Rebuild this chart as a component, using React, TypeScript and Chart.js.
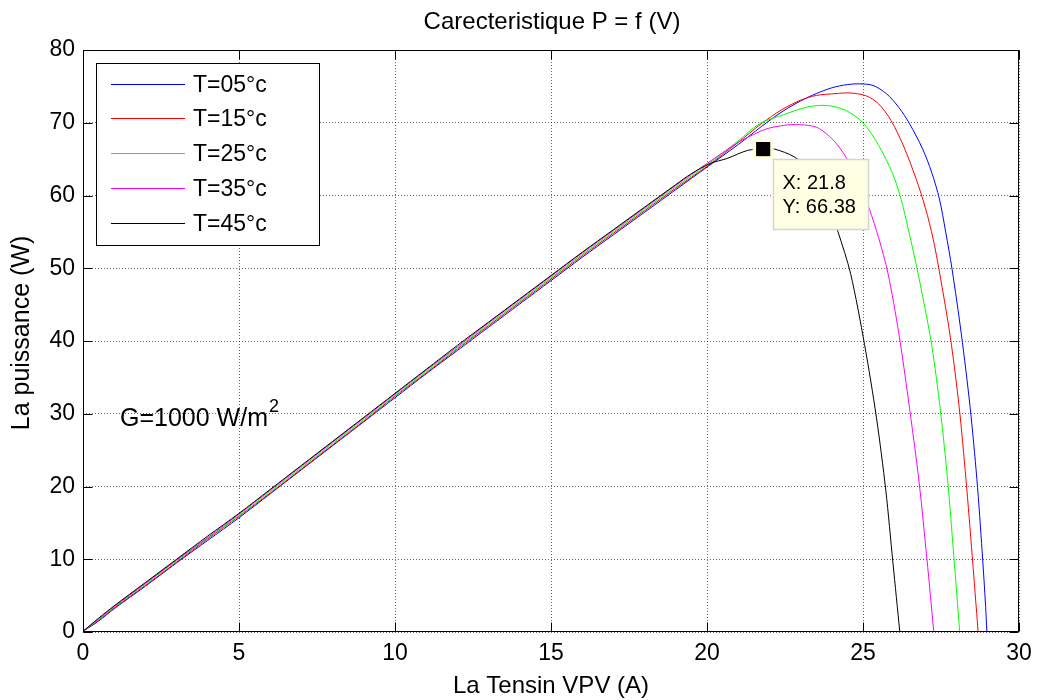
import React, { useEffect, useRef } from "react";
import { Chart, registerables } from "chart.js";

Chart.register(...registerables);

const TITLE = "Carecteristique P = f (V)";
const X_TITLE = "La Tensin VPV (A)";
const Y_TITLE = "La puissance (W)";
const NOTE_MAIN = "G=1000 W/m";
const NOTE_SUP = "2";

const SERIES_LABELS = ["T=05°c", "T=15°c", "T=25°c", "T=35°c", "T=45°c"];
const SERIES_COLORS = ["#0000FF", "#FF0000", "#00FF00", "#FF00FF", "#000000"];

const X_TICKS = [0, 5, 10, 15, 20, 25, 30];
const Y_TICKS = [0, 10, 20, 30, 40, 50, 60, 70, 80];

// T = 05 °C
const V05 = [0, 0.5, 1, 2, 3, 4, 5, 6, 7, 8, 9, 10, 11, 12, 13, 14, 15, 16, 17, 18, 19, 20, 21, 21.75, 22.4, 23.0, 23.5, 24.0, 24.5, 24.9, 25.32, 25.75, 26.15, 26.5, 26.9, 27.2, 27.45, 27.65, 27.85, 28.15, 28.43, 28.65, 28.82, 28.93, 28.97];
const P05 = [0.1, 1.5, 3.2, 6.3, 9.5, 12.6, 15.7, 19.0, 22.3, 25.6, 28.9, 32.2, 35.5, 38.7, 41.9, 45.1, 48.3, 51.5, 54.6, 57.7, 60.8, 63.9, 67.0, 69.5, 71.5, 73.0, 74.0, 74.8, 75.25, 75.35, 75.13, 74.0, 72.1, 69.8, 66.5, 63.2, 59.5, 55.0, 50.0, 41.0, 31.0, 21.0, 11.0, 3.5, 0];

// T = 15 °C
const V15 = [0, 0.5, 1, 2, 3, 4, 5, 6, 7, 8, 9, 10, 11, 12, 13, 14, 15, 16, 17, 18, 19, 20, 21, 21.75, 22.4, 23.0, 23.5, 24.1, 24.58, 25.1, 25.5, 25.9, 26.3, 26.7, 27.0, 27.25, 27.45, 27.8, 28.08, 28.3, 28.5, 28.69];
const P15 = [0.1, 1.6, 3.3, 6.4, 9.6, 12.8, 15.9, 19.1, 22.4, 25.7, 29.0, 32.4, 35.6, 38.9, 42.1, 45.3, 48.5, 51.7, 54.8, 57.9, 61.0, 64.0, 67.3, 69.9, 71.8, 73.1, 73.75, 74.0, 74.1, 73.7, 72.6, 70.3, 66.8, 62.3, 58.3, 54.0, 49.5, 40.5, 31.0, 21.0, 10.5, 0];

// T = 25 °C
const V25 = [0, 0.5, 1, 2, 3, 4, 5, 6, 7, 8, 9, 10, 11, 12, 13, 14, 15, 16, 17, 18, 19, 20, 21, 21.7, 22.45, 23.2, 23.83, 24.45, 25.0, 25.5, 25.95, 26.2, 26.45, 26.7, 26.95, 27.2, 27.48, 27.72, 27.9, 28.1];
const P25 = [0.1, 1.7, 3.4, 6.6, 9.8, 12.9, 16.0, 19.3, 22.6, 25.9, 29.2, 32.5, 35.8, 39.0, 42.3, 45.5, 48.7, 51.9, 55.0, 58.1, 61.2, 64.2, 67.5, 69.9, 71.1, 72.15, 72.38, 71.7, 70.0, 66.9, 63.0, 59.8, 55.4, 50.6, 45.3, 39.5, 30.5, 20.5, 11.0, 0];

// T = 35 °C
const V35 = [0, 0.5, 1, 2, 3, 4, 5, 6, 7, 8, 9, 10, 11, 12, 13, 14, 15, 16, 17, 18, 19, 20, 21, 21.5, 21.9, 22.4, 22.8, 23.5, 24.05, 24.45, 24.9, 25.2, 25.5, 25.8, 26.15, 26.5, 26.8, 27.05, 27.27];
const P35 = [0.1, 1.8, 3.5, 6.7, 9.9, 13.0, 16.2, 19.5, 22.8, 26.1, 29.4, 32.7, 36.0, 39.2, 42.5, 45.7, 48.9, 52.1, 55.2, 58.3, 61.4, 64.4, 67.3, 68.4, 69.15, 69.6, 69.75, 69.4, 67.6, 65.3, 61.6, 58.2, 54.2, 49.3, 41.0, 30.5, 20.5, 10.0, 0];

// T = 45 °C
const V45 = [0, 0.5, 1, 2, 3, 4, 5, 6, 7, 8, 9, 10, 11, 12, 13, 14, 15, 16, 17, 18, 19, 19.5, 20.1, 20.65, 21.3, 21.8, 22.15, 22.8, 23.3, 23.8, 24.2, 24.6, 25.05, 25.43, 25.73, 25.96, 26.18];
const P45 = [0.1, 1.9, 3.6, 6.8, 10.0, 13.2, 16.3, 19.6, 22.9, 26.2, 29.5, 32.8, 36.1, 39.4, 42.6, 45.8, 49.0, 52.2, 55.3, 58.4, 61.5, 63.0, 64.4, 65.1, 66.2, 66.42, 66.4, 65.3, 63.4, 60.0, 55.0, 49.3, 39.5, 29.5, 19.5, 9.5, 0];

// data tip
const TIP_X = [21.8];
const TIP_Y = [66.38];

const VOLTS = [V05, V15, V25, V35, V45];
const POWERS = [P05, P15, P25, P35, P45];

const FONT = "'Liberation Sans', Arial, Helvetica, sans-serif";

const overlayPlugin = {
  id: "overlay",
  afterDatasetsDraw(chart: any) {
    const ctx = chart.ctx;
    const xs = chart.scales.x;
    const ys = chart.scales.y;
    const px = xs.getPixelForValue(TIP_X[0]);
    const py = ys.getPixelForValue(TIP_Y[0]);
    const bx = Math.round(px + 10) + 0.5;
    const by = Math.round(py + 10) + 0.5;
    const bw = 95;
    const bh = 70;
    ctx.save();
    ctx.fillStyle = "#FFFFE4";
    ctx.fillRect(bx, by, bw, bh);
    ctx.strokeStyle = "#D4D4D0";
    ctx.lineWidth = 1.5;
    ctx.strokeRect(bx, by, bw, bh);
    ctx.fillStyle = "#000";
    ctx.font = `20px ${FONT}`;
    ctx.textBaseline = "middle";
    ctx.textAlign = "left";
    ctx.fillText(`X: ${TIP_X[0]}`, bx + 9, by + 24);
    ctx.fillText(`Y: ${TIP_Y[0]}`, bx + 9, by + 48);
    ctx.restore();
  },
  afterDraw(chart: any) {
    const ctx = chart.ctx;
    const a = chart.chartArea;
    const xs = chart.scales.x;
    const ys = chart.scales.y;
    ctx.save();
    ctx.strokeStyle = "#000";
    ctx.lineWidth = 1;
    const L = Math.round(a.left) + 0.5;
    const R = Math.round(a.right) - 0.5;
    const T = Math.round(a.top) + 0.5;
    const B = Math.round(a.bottom) - 0.5;
    ctx.strokeRect(L, T, R - L, B - T);
    const tl = 9;
    ctx.beginPath();
    X_TICKS.forEach((v) => {
      const p = Math.round(xs.getPixelForValue(v)) + 0.5;
      ctx.moveTo(p, B);
      ctx.lineTo(p, B - tl);
      ctx.moveTo(p, T);
      ctx.lineTo(p, T + tl);
    });
    Y_TICKS.forEach((v) => {
      const p = Math.round(ys.getPixelForValue(v)) + 0.5;
      ctx.moveTo(L, p);
      ctx.lineTo(L + tl, p);
      ctx.moveTo(R, p);
      ctx.lineTo(R - tl, p);
    });
    ctx.stroke();

    // legend
    const lx = 96.5, ly = 63.5, lw = 223, lh = 182;
    ctx.fillStyle = "#fff";
    ctx.fillRect(lx, ly, lw, lh);
    ctx.strokeStyle = "#000";
    ctx.lineWidth = 1;
    ctx.strokeRect(lx, ly, lw, lh);
    ctx.font = `23px ${FONT}`;
    ctx.textBaseline = "middle";
    ctx.textAlign = "left";
    SERIES_LABELS.forEach((lab, i) => {
      const ry = Math.round(83.5 + i * 34.8) + 0.5;
      ctx.strokeStyle = SERIES_COLORS[i];
      ctx.lineWidth = 1;
      ctx.beginPath();
      ctx.moveTo(111, ry);
      ctx.lineTo(185, ry);
      ctx.stroke();
      ctx.fillStyle = "#000";
      ctx.fillText(lab, 193, ry + 1);
    });

    // irradiance note
    ctx.fillStyle = "#000";
    ctx.font = `25px ${FONT}`;
    ctx.textBaseline = "middle";
    ctx.fillText(NOTE_MAIN, a.left + 37, 419);
    const w = ctx.measureText(NOTE_MAIN).width;
    ctx.font = `18px ${FONT}`;
    ctx.fillText(NOTE_SUP, a.left + 37 + w + 1, 407);

    // titles
    const cx = (a.left + a.right) / 2;
    ctx.font = `24px ${FONT}`;
    ctx.textAlign = "center";
    ctx.textBaseline = "middle";
    ctx.fillText(TITLE, cx + 1, 22);
    ctx.fillText(X_TITLE, cx, 686);
    ctx.font = `25px ${FONT}`;
    ctx.translate(22, 333);
    ctx.rotate(-Math.PI / 2);
    ctx.fillText(Y_TITLE, 0, 0);
    ctx.restore();
  },
};

export default function App() {
  const ref = useRef<HTMLCanvasElement | null>(null);
  useEffect(() => {
    if (!ref.current) return;
    const datasets: any[] = SERIES_LABELS.map((lab, i) => ({
      label: lab,
      data: VOLTS[i].map((v, k) => ({ x: v, y: POWERS[i][k] })),
      borderColor: SERIES_COLORS[i],
      backgroundColor: SERIES_COLORS[i],
      borderWidth: 1,
      pointRadius: 0,
      tension: 0.3,
      showLine: true,
      fill: false,
      order: 5 - i,
    }));
    datasets.push({
      label: "tip-halo",
      data: TIP_X.map((v, k) => ({ x: v, y: TIP_Y[k] })),
      showLine: false,
      pointStyle: "rect",
      pointRadius: 15,
      backgroundColor: "#FFFFDD",
      borderColor: "#FFFFDD",
      borderWidth: 0,
      order: -1,
    });
    datasets.push({
      label: "tip-marker",
      data: TIP_X.map((v, k) => ({ x: v, y: TIP_Y[k] })),
      showLine: false,
      pointStyle: "rect",
      pointRadius: 10,
      backgroundColor: "#000",
      borderColor: "#000",
      borderWidth: 0,
      order: -2,
    });

    const chart = new Chart(ref.current, {
      type: "scatter",
      data: { datasets },
      options: {
        animation: false,
        responsive: false,
        devicePixelRatio: 1,
        layout: { padding: { left: 0, right: 21, top: 50, bottom: 0 } },
        plugins: {
          legend: { display: false },
          tooltip: { enabled: false },
          title: { display: false },
        },
        scales: {
          x: {
            type: "linear",
            min: 0,
            max: 30,
            afterBuildTicks: (s: any) => {
              s.ticks = X_TICKS.map((v) => ({ value: v }));
            },
            afterFit: (s: any) => {
              s.height = 68;
            },
            grid: { color: "rgba(0,0,0,0.6)", lineWidth: 1, drawTicks: false },
            border: { display: false, dash: [1, 2] },
            ticks: {
              color: "#000",
              padding: 8,
              font: { family: FONT, size: 23 },
              maxRotation: 0,
            },
          },
          y: {
            type: "linear",
            min: 0,
            max: 80,
            afterBuildTicks: (s: any) => {
              s.ticks = Y_TICKS.map((v) => ({ value: v }));
            },
            afterFit: (s: any) => {
              s.width = 83;
            },
            grid: { color: "rgba(0,0,0,0.6)", lineWidth: 1, drawTicks: false },
            border: { display: false, dash: [1, 2] },
            ticks: {
              color: "#000",
              padding: 8,
              font: { family: FONT, size: 23 },
            },
          },
        },
      },
      plugins: [overlayPlugin],
    } as any);
    return () => chart.destroy();
  }, []);

  return (
    <canvas
      ref={ref}
      width={1040}
      height={700}
      style={{ position: "absolute", left: 0, top: 0, width: 1040, height: 700, background: "#fff" }}
    />
  );
}
